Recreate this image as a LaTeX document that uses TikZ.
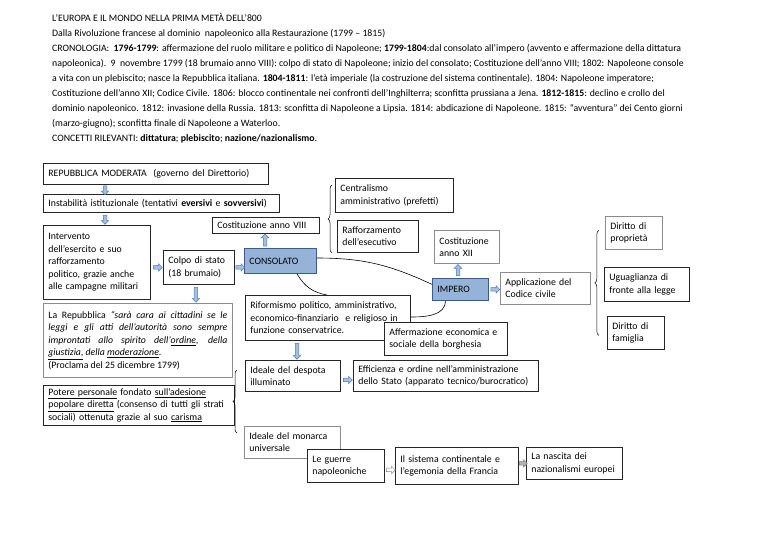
\documentclass[tikz,border=0pt]{standalone}
\usepackage{fontspec}
\setmainfont{Carlito}
\usetikzlibrary{shapes.arrows, decorations.pathreplacing}
\hyphenpenalty=10000
\exhyphenpenalty=10000

\definecolor{blubox}{RGB}{149,179,215}
\definecolor{bluline}{RGB}{56,93,138}
\definecolor{arrfill}{RGB}{167,191,222}
\definecolor{arrline}{RGB}{74,126,187}
\definecolor{boxline}{RGB}{38,38,38}
\definecolor{greyline}{RGB}{140,140,140}

\tikzset{
  box/.style={draw=boxline, line width=0.8pt, fill=white, rectangle, anchor=north west, align=left,
    inner xsep=5pt, inner ysep=2pt, font=\fontsize{9.8}{12.4}\selectfont},
  gbox/.style={box, draw=greyline},
  bbox/.style={box, fill=blubox, draw=bluline},
  barrow/.style={single arrow, draw=arrline, fill=arrfill, line width=0.5pt, inner sep=1.5pt,
    single arrow head extend=2pt, minimum height=#1, sloped, allow upside down},
  barrow/.default=9pt,
  brc/.style={decorate, decoration={brace, amplitude=4pt}, line width=0.5pt},
  link/.style={line width=0.6pt}
}

\begin{document}
\begin{tikzpicture}[x=1pt, y=-1pt]
\fill[white] (0,0) rectangle (768,543);
\useasboundingbox (0,0) rectangle (768,543);

% intestazione
\node[anchor=north west, align=left, inner sep=0, font=\fontsize{9.8}{15}\selectfont] (head) at (52,13) {%
L’EUROPA E IL MONDO NELLA PRIMA METÀ DELL’800\\
Dalla Rivoluzione francese al dominio\ \ napoleonico alla Restaurazione (1799 – 1815)\\
CRONOLOGIA:\ \ \textbf{1796-1799}: affermazione del ruolo militare e politico di Napoleone; \textbf{1799-1804}:dal consolato all’impero (avvento e affermazione della dittatura\\
napoleonica).\ \ 9\ \ novembre 1799 (18 brumaio anno VIII): colpo di stato di Napoleone; inizio del consolato; Costituzione dell’anno VIII; 1802: Napoleone console\\
a vita con un plebiscito; nasce la Repubblica italiana. \textbf{1804-1811}: l’età imperiale (la costruzione del sistema continentale). 1804: Napoleone imperatore;\\
Costituzione dell’anno XII; Codice Civile. 1806: blocco continentale nei confronti dell’Inghilterra; sconfitta prussiana a Jena. \textbf{1812-1815}: declino e crollo del\\
dominio napoleonico. 1812: invasione della Russia. 1813: sconfitta di Napoleone a Lipsia. 1814: abdicazione di Napoleone. 1815: “avventura” dei Cento giorni\\
(marzo-giugno); sconfitta finale di Napoleone a Waterloo.\\
CONCETTI RILEVANTI: \textbf{dittatura}; \textbf{plebiscito}; \textbf{nazione/nazionalismo}.};

% colonna di sinistra
\node[box, text width=215pt, minimum height=21pt] (rep) at (43,163) {REPUBBLICA MODERATA\ \ (governo del Direttorio)};
\node[box, text width=226pt, minimum height=18pt] (inst) at (43,194) {Instabilità istituzionale (tentativi \textbf{eversivi} e \textbf{sovversivi})};
\node[box, text width=97pt, minimum height=74pt] (interv) at (43,225) {Intervento\\dell’esercito e suo\\rafforzamento\\politico, grazie anche\\alle campagne militari};
\node[box, text width=61pt, minimum height=34pt] (colpo) at (163,250) {Colpo di stato\\(18 brumaio)};
\node[gbox, align=justify, text width=179pt, minimum height=74pt] (quote) at (43,303) {La Repubblica \textit{“sarà cara ai cittadini se le}\linebreak
\textit{leggi e gli atti dell’autorità sono sempre}\linebreak
\textit{improntati allo spirito dell’\underline{ordine}, della}\linebreak
\textit{\underline{giustizia,} della \underline{moderazione}}.\\
(Proclama del 25 dicembre 1799)};
\node[box, text width=181pt, minimum height=40pt] (potere) at (43,385) {\underline{Potere personale} fondato \underline{sull’adesione}\\
\underline{popolare diretta} (consenso di tutti gli strati\\
sociali) ottenuta grazie al suo \underline{carisma}};

% consolato
\node[box, text width=97pt, minimum height=16pt] (cost8) at (212,217) {Costituzione anno VIII};
\node[bbox, text width=62pt, minimum height=25pt] (consolato) at (244,248) {CONSOLATO};
\node[box, text width=108pt, minimum height=34pt] (cent) at (335,178) {Centralismo\\amministrativo (prefetti)};
\node[box, text width=71pt, minimum height=32pt] (raff) at (337,220) {Rafforzamento\\dell’esecutivo};

% impero
\node[gbox, text width=55pt, minimum height=33pt] (cost12) at (434,230) {Costituzione\\anno XII};
\node[bbox, text width=46pt, minimum height=22pt] (impero) at (432,278) {IMPERO};
\node[gbox, text width=80pt, minimum height=32pt] (applic) at (500,272) {Applicazione del\\Codice civile};
\node[gbox, text width=47pt, minimum height=33pt] (prop) at (605,216) {Diritto di\\proprietà};
\node[box, text width=75pt, minimum height=34pt] (ugua) at (604,267) {Uguaglianza di\\fronte alla legge};
\node[box, text width=47pt, minimum height=33pt] (fam) at (607,316) {Diritto di\\famiglia};

% riforme
\node[box, text width=155pt, minimum height=45pt] (rifo) at (245,295) {Riformismo politico, amministrativo,\\economico-finanziario\ \ e religioso in\\funzione conservatrice.};
\draw[link] ([xshift=-15pt]impero.south) to[out=-90, in=0] ([yshift=-22pt]rifo.north east);
\node[box, text width=113pt, minimum height=33pt] (borgh) at (384,322) {Affermazione economica e\\sociale della borghesia};
\node[box, text width=85pt, minimum height=31pt] (despota) at (245,360) {Ideale del despota\\illuminato};
\node[box, text width=175pt, minimum height=31pt] (effic) at (353,360) {Efficienza e ordine nell’amministrazione\\dello Stato (apparato tecnico/burocratico)};

% riga in basso
\node[gbox, text width=86pt, minimum height=32pt] (monarca) at (244,426) {Ideale del monarca\\universale};
\node[box, text width=67pt, minimum height=33pt] (guerre) at (307,449) {Le guerre\\napoleoniche};
\node[box, text width=113pt, minimum height=37pt] (sistema) at (395,447) {Il sistema continentale e\\l’egemonia della Francia};
\node[box, text width=86pt, minimum height=32pt] (nascita) at (526,447) {La nascita dei\\nazionalismi europei};

% frecce
\path ([xshift=62pt]rep.south west) -- ([xshift=62pt]inst.north west) node[midway, barrow] {};
\path ([xshift=62pt]inst.south west) -- ([xshift=62pt]interv.north west) node[midway, barrow] {};
\path (interv.east |- colpo.west) -- (colpo.west) node[midway, barrow] {};
\path (colpo.east) -- (colpo.east -| consolato.west) node[midway, barrow] {};
\path ([xshift=-3pt]colpo.south) -- ([xshift=-3pt]colpo.south |- quote.north) node[midway, barrow=15pt] {};
\path ([xshift=21pt]consolato.north west) -- ([xshift=21pt]consolato.north west |- cost8.south) node[midway, barrow=12pt] {};
\path ([xshift=26pt]impero.north west) -- ([xshift=26pt]impero.north west |- cost12.south) node[midway, barrow=11pt] {};
\path (impero.east) -- (impero.east -| applic.west) node[midway, barrow] {};
\path ([xshift=52pt]rifo.south west) -- ([xshift=52pt]rifo.south west |- despota.north) node[midway, barrow=16pt] {};
\path ([yshift=-4pt]despota.east) -- ([yshift=-4pt]despota.east -| effic.west) node[midway, barrow] {};
\path ([yshift=-4pt]guerre.east) -- ([yshift=-4pt]guerre.east -| sistema.west) node[midway, barrow, fill=white, draw=greyline] {};
\path (sistema.east |- nascita.west) -- (nascita.west) node[midway, barrow=8pt, fill=gray!60, draw=gray] {};

% collegamenti
\draw[link] ([yshift=-10pt]consolato.north east) to[out=0, in=155] ([yshift=5pt]impero.west);
\draw[link] ([xshift=53pt]consolato.south west) to[out=-60, in=170] ([xshift=82pt]rifo.north west);

% graffe
\draw[brc] ([xshift=-5pt]raff.south west) -- ([xshift=-3pt,yshift=-7pt]cent.north west);
\draw[brc] ([xshift=8pt,yshift=-47pt]applic.east) -- ([xshift=8pt,yshift=58pt]applic.east);
\draw[brc] ([xshift=-7pt,yshift=-7pt]monarca.north west) -- ([xshift=-8pt,yshift=-10pt]despota.north west);
\end{tikzpicture}
\end{document}
